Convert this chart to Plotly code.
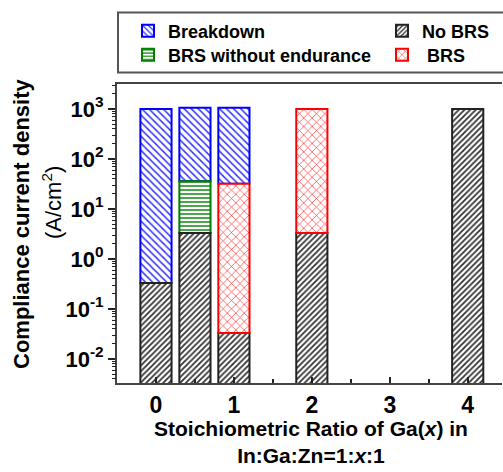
import plotly.graph_objects as go

# ---- data ----
ratios = [0, 0.5, 1, 2, 4]
nobrs_top = [0.33, 3.3, 0.033, 3.3, 1000]

brs_wo_x = [0.5]
brs_wo_bottom = [3.3]
brs_wo_top = [36]

brs_x = [1, 2]
brs_bottom = [0.033, 3.3]
brs_top = [32, 1000]

bd_x = [0, 0.5, 1]
bd_bottom = [0.33, 36, 32]
bd_top = [1000, 1060, 1060]

floor_val = 1e-3
x_ticks = [0, 1, 2, 3, 4]
y_exponents = [-2, -1, 0, 1, 2, 3]

FONT = "Liberation Sans, Arial, sans-serif"

def seg(bottoms, tops):
    return [t - b for b, t in zip(bottoms, tops)]

y_tickvals = [10.0 ** e for e in y_exponents]
y_ticktext = ["10<sup>%d</sup>" % e for e in y_exponents]
y_minor = [m * 10.0 ** e for e in range(-3, 4) for m in range(2, 10)]
Y_RANGE = [-2.48, 3.5]

fig = go.Figure()

fig.add_trace(go.Bar(
    name="Breakdown", x=bd_x, base=bd_bottom, y=seg(bd_bottom, bd_top),
    width=0.4, legend="legend",
    marker=dict(color="white", line=dict(color="#0000ff", width=2),
                pattern=dict(shape="\\", fgcolor="#3333ff", bgcolor="white",
                             size=5, solidity=0.3, fillmode="replace")),
))
fig.add_trace(go.Bar(
    name="BRS without endurance", x=brs_wo_x, base=brs_wo_bottom,
    y=seg(brs_wo_bottom, brs_wo_top), width=0.4, legend="legend2",
    marker=dict(color="white", line=dict(color="#008000", width=2),
                pattern=dict(shape="-", fgcolor="#008000", bgcolor="white",
                             size=4, solidity=0.35, fillmode="replace")),
))
fig.add_trace(go.Bar(
    name="No BRS", x=ratios, base=[floor_val] * len(ratios),
    y=seg([floor_val] * len(ratios), nobrs_top), width=0.4, legend="legend3",
    marker=dict(color="white", line=dict(color="#222222", width=2),
                pattern=dict(shape="/", fgcolor="#333333", bgcolor="white",
                             size=4, solidity=0.45, fillmode="replace")),
))
fig.add_trace(go.Bar(
    name=" BRS", x=brs_x, base=brs_bottom, y=seg(brs_bottom, brs_top),
    width=0.4, legend="legend4",
    marker=dict(color="white", line=dict(color="#ff0000", width=2),
                pattern=dict(shape="x", fgcolor="#ff2222", bgcolor="white",
                             size=6, solidity=0.2, fillmode="replace")),
))
# invisible trace to carry the minor-tick axis
fig.add_trace(go.Scatter(x=[None], y=[None], yaxis="y2", showlegend=False,
                         hoverinfo="skip", mode="markers"))

PL, PR, PT, PB = 117, 1, 84, 89
W, H = 503, 472
pw, ph = W - PL - PR, H - PT - PB

def px(xpix):
    return (xpix - PL) / pw

def py(ypix):
    return (H - PB - ypix) / ph

def leg(xpix, ypix):
    return dict(x=px(xpix), y=py(ypix), xanchor="left", yanchor="middle",
                bgcolor="rgba(0,0,0,0)", borderwidth=0,
                font=dict(size=18, family=FONT, weight="bold"))

fig.update_layout(
    width=W, height=H,
    margin=dict(l=PL, r=PR, t=PT, b=PB),
    plot_bgcolor="white", paper_bgcolor="white",
    barmode="overlay",
    font=dict(family=FONT, color="black"),
    showlegend=True,
    legend=leg(128, 31),
    legend2=leg(128, 55),
    legend3=leg(382, 31),
    legend4=leg(382, 55),
    xaxis=dict(range=[-0.5, 4.44], tickvals=x_ticks,
               ticktext=[str(v) for v in x_ticks],
               ticks="inside", ticklen=6, tickwidth=1.5, tickcolor="#222",
               minor=dict(ticks="inside", ticklen=4, dtick=0.5, tickcolor="#222",
                          tickwidth=1.5),
               showline=True, linecolor="#444", linewidth=2, mirror=True,
               showgrid=False, zeroline=False,
               tickfont=dict(size=23, family=FONT, weight="bold")),
    yaxis=dict(type="log", range=Y_RANGE,
               tickmode="array", tickvals=y_tickvals, ticktext=y_ticktext,
               ticks="outside", ticklen=7, tickwidth=1.5, tickcolor="#222",
               showline=True, linecolor="#444", linewidth=2,
               showgrid=False, zeroline=False,
               tickfont=dict(size=22, family=FONT, weight="bold")),
    yaxis2=dict(type="log", range=Y_RANGE, overlaying="y", side="left",
                tickmode="array", tickvals=y_minor, showticklabels=False,
                ticks="outside", ticklen=4, tickwidth=1.2, tickcolor="#222",
                showline=False, showgrid=False, zeroline=False),
    shapes=[dict(type="rect", xref="paper", yref="paper",
                 x0=px(118), x1=px(520), y0=py(72.5), y1=py(12.5),
                 line=dict(color="#555", width=2), fillcolor="rgba(0,0,0,0)")],
    annotations=[
        dict(text="<b>Compliance current density</b>", xref="paper", yref="paper",
             x=px(21), y=py(224), textangle=-90, showarrow=False,
             xanchor="center", yanchor="middle",
             font=dict(size=22, family=FONT)),
        dict(text="(A/cm<sup>2</sup>)", xref="paper", yref="paper",
             x=px(52), y=py(203), textangle=-90, showarrow=False,
             xanchor="center", yanchor="middle",
             font=dict(size=22, family=FONT)),
        dict(text="<b>Stoichiometric Ratio of Ga(<i>x</i>) in<br>In:Ga:Zn=1:<i>x</i>:1</b>",
             xref="paper", yref="paper", x=px(311), y=py(442),
             showarrow=False, xanchor="center", yanchor="middle",
             font=dict(size=21, family=FONT)),
    ],
)

fig.write_html("out.html")
